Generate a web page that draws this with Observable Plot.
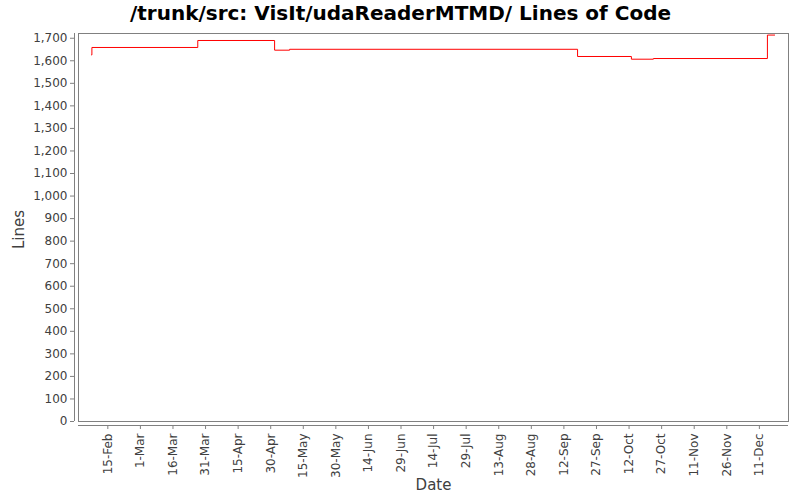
<!DOCTYPE html>
<html>
<head>
<meta charset="utf-8">
<script src="https://cdn.jsdelivr.net/npm/d3@7"></script>
<script src="https://cdn.jsdelivr.net/npm/@observablehq/plot@0.6"></script>
<style>
  html, body { margin: 0; padding: 0; background: #fff; }
  #chart { width: 800px; height: 500px; }
</style>
</head>
<body>
<div id="chart"></div>
<script>
const chartTitle = "/trunk/src: VisIt/udaReaderMTMD/ Lines of Code";
const xLabel = "Date";
const yLabel = "Lines";

const commitDates = [
  "2008-02-07T12:00:00Z", "2008-02-07T16:00:00Z", "2008-03-27T10:00:00Z",
  "2008-05-01T19:00:00Z", "2008-05-08T17:00:00Z", "2008-09-18T07:00:00Z",
  "2008-10-13T02:00:00Z", "2008-10-23T05:00:00Z", "2008-12-14T17:00:00Z",
  "2008-12-18T02:00:00Z"
];
const lineCounts = [1626, 1659, 1690, 1647, 1651, 1619, 1607, 1610, 1714, 1714];

const xTickDates = [
  "2008-02-15", "2008-03-01", "2008-03-16", "2008-03-31", "2008-04-15", "2008-04-30",
  "2008-05-15", "2008-05-30", "2008-06-14", "2008-06-29", "2008-07-14", "2008-07-29",
  "2008-08-13", "2008-08-28", "2008-09-12", "2008-09-27", "2008-10-12", "2008-10-27",
  "2008-11-11", "2008-11-26", "2008-12-11"
];
const yTicks = d3.range(0, 1701, 100);
const xDomain = ["2008-02-01T12:00:00Z", "2008-12-24T10:00:00Z"];
const yDomain = [0, 1721];

const data = commitDates.map((d, i) => ({date: new Date(d), lines: lineCounts[i]}));
const tickDates = xTickDates.map(d => new Date(d + "T00:00:00Z"));
const fmtDate = d3.utcFormat("%-d-%b");

const grey = "#808080";
const textCol = "#404040";

const plot = Plot.plot({
  width: 800,
  height: 500,
  marginLeft: 78,
  marginRight: 12,
  marginTop: 33,
  marginBottom: 79,
  style: {fontFamily: "DejaVu Sans", fontSize: "12px", background: "#fff", color: textCol},
  x: {type: "utc", domain: xDomain.map(d => new Date(d))},
  y: {domain: yDomain},
  marks: [
    Plot.frame({stroke: grey}),
    Plot.ruleX([new Date(xDomain[0])], {stroke: grey, dx: -4}),
    Plot.ruleY([0], {stroke: grey, dy: 4}),
    Plot.axisY({ticks: yTicks, tickFormat: d3.format(","), tickSize: 4, tickPadding: 3, dx: -4, stroke: grey, fill: textCol, label: null}),
    Plot.axisX({ticks: tickDates, tickFormat: fmtDate, tickRotate: -90, tickSize: 4, tickPadding: 4, dy: 4, stroke: grey, fill: textCol, label: null}),
    Plot.line(data, {x: "date", y: "lines", curve: "step-after", stroke: "red", strokeWidth: 1}),
    Plot.text([yLabel], {frameAnchor: "left", dx: -59, dy: 2, rotate: -90, textAnchor: "middle", lineAnchor: "middle", fontSize: 15, fill: textCol}),
    Plot.text([xLabel], {frameAnchor: "bottom", dy: 64, textAnchor: "middle", lineAnchor: "middle", fontSize: 15, fill: textCol}),
    Plot.text([chartTitle], {frameAnchor: "top-left", dx: 322, dy: -20, textAnchor: "middle", lineAnchor: "middle", fontSize: 20, fontWeight: "bold", fill: "#000"})
  ]
});
document.getElementById("chart").appendChild(plot);
</script>
</body>
</html>
